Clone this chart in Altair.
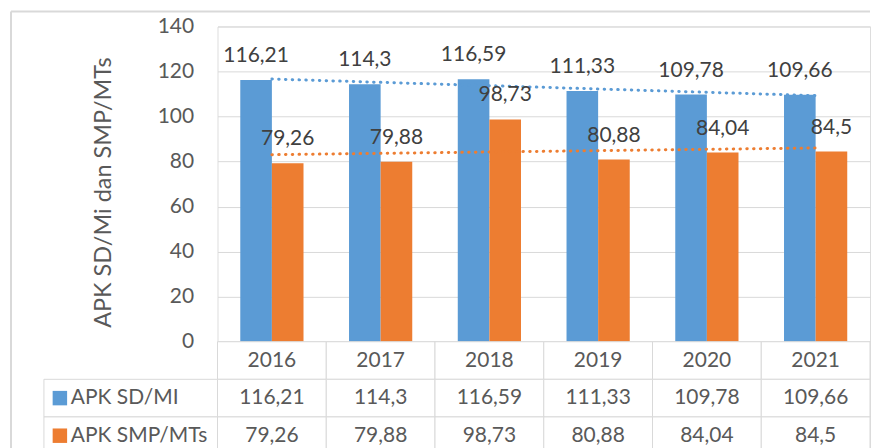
import altair as alt
import pandas as pd

years = [2016, 2017, 2018, 2019, 2020, 2021]
series_names = ["APK SD/MI", "APK SMP/MTs"]
sd_values = [116.21, 114.3, 116.59, 111.33, 109.78, 109.66]
smp_values = [79.26, 79.88, 98.73, 80.88, 84.04, 84.5]
y_ticks = [0, 20, 40, 60, 80, 100, 120, 140]
y_title = "APK SD/Mi dan SMP/MTs"
colors = ["#5B9BD5", "#ED7D31"]

FONT = "Lato"
GRID = "#d9d9d9"
TXT = "#595959"
LBL = "#404040"
FS = 21

rows = []
for name, vals in zip(series_names, [sd_values, smp_values]):
    for yr, v in zip(years, vals):
        rows.append({"year": yr, "series": name, "value": v})
df = pd.DataFrame(rows)

W = 654
x_scale = alt.Scale(paddingInner=0, paddingOuter=0)
color = alt.Color("series:N", scale=alt.Scale(domain=series_names, range=colors), legend=None)
xoff = alt.XOffset("series:N", scale=alt.Scale(domain=series_names, paddingInner=0, paddingOuter=0.72))
y_enc = alt.Y("value:Q", scale=alt.Scale(domain=[0, 140], nice=False))

base = alt.Chart(df)
bars = base.mark_bar().encode(
    x=alt.X("year:O", scale=x_scale,
            axis=alt.Axis(labels=False, ticks=False, domain=True, domainColor=GRID,
                          domainWidth=1, title=None, grid=False)),
    xOffset=xoff,
    y=alt.Y("value:Q", scale=alt.Scale(domain=[0, 140], nice=False),
            axis=alt.Axis(values=y_ticks, title=y_title, grid=True, gridColor=GRID,
                          ticks=False, domain=False, labelPadding=24,
                          labelFont=FONT, labelFontSize=FS, labelColor=TXT,
                          titleFont=FONT, titleFontSize=23.5, titleColor=TXT,
                          titleFontWeight="normal", titlePadding=42, titleY=166)),
    color=color,
)

labels = base.transform_calculate(
    label="replace(toString(datum.value), '.', ',')"
).mark_text(dy=-24, baseline="middle", font=FONT, fontSize=FS, color=LBL).encode(
    x=alt.X("year:O", scale=x_scale),
    xOffset=xoff,
    y=y_enc,
    text="label:N",
)

trend = base.transform_regression(
    "year", "value", groupby=["series"]
).mark_line(strokeDash=[0.5, 6.3], strokeWidth=3, strokeCap="round").encode(
    x=alt.X("year:O", scale=x_scale, bandPosition=0.5),
    y=y_enc,
    color=color,
)

# chart-area border (top and left edges)
frame_src = alt.Chart(pd.DataFrame({"k": [0]}))
frame_left = frame_src.mark_rule(color=GRID, strokeWidth=2).encode(
    x=alt.value(-207), y=alt.value(-15), y2=alt.value(430))
frame_top = frame_src.mark_rule(color=GRID, strokeWidth=2).encode(
    x=alt.value(-207), x2=alt.value(W), y=alt.value(-15))

top = alt.layer(frame_left, frame_top, bars, trend, labels).properties(width=W, height=316)

# data table below the chart
table_rows = ["header"] + series_names
cells = pd.DataFrame([{"year": yr, "row": r} for r in table_rows for yr in years])
tbl = []
for yr in years:
    tbl.append({"year": yr, "row": "header", "text": str(yr)})
for name, vals in zip(series_names, [sd_values, smp_values]):
    for yr, v in zip(years, vals):
        tbl.append({"year": yr, "row": name, "text": str(v).replace(".", ",")})
tbl_df = pd.DataFrame(tbl)
leg_df = pd.DataFrame({"row": series_names, "series": series_names})

ty_scale = alt.Scale(domain=table_rows, paddingInner=0, paddingOuter=0)
tx = alt.X("year:O", scale=x_scale, axis=None)
ty = alt.Y("row:N", scale=ty_scale, axis=None)

cell_rects = alt.Chart(cells).mark_rect(fill="white", stroke=GRID, strokeWidth=1).encode(x=tx, y=ty)
cell_text = alt.Chart(tbl_df).mark_text(font=FONT, fontSize=FS, color=TXT, baseline="middle").encode(
    x=tx, y=ty, text="text:N")
leg_rects = alt.Chart(leg_df).mark_rect(fill="white", stroke=GRID, strokeWidth=1).encode(
    x=alt.value(-174), x2=alt.value(0), y=ty)
leg_sq = alt.Chart(leg_df).mark_square(size=210, opacity=1).encode(
    x=alt.value(-158), y=ty, color=color)
leg_txt = alt.Chart(leg_df).mark_text(align="left", baseline="middle", font=FONT, fontSize=FS, color=TXT).encode(
    x=alt.value(-147), y=ty, text="row:N")

bottom = alt.layer(cell_rects, cell_text, leg_rects, leg_sq, leg_txt).properties(width=W, height=113)

chart = alt.vconcat(top, bottom, spacing=0, bounds="flush").properties(
    padding={"left": 1, "top": 1, "right": 0, "bottom": 0}
).configure_view(stroke=None).configure(font=FONT)

chart.save("out.html", embed_options={"renderer": "svg", "actions": False})
